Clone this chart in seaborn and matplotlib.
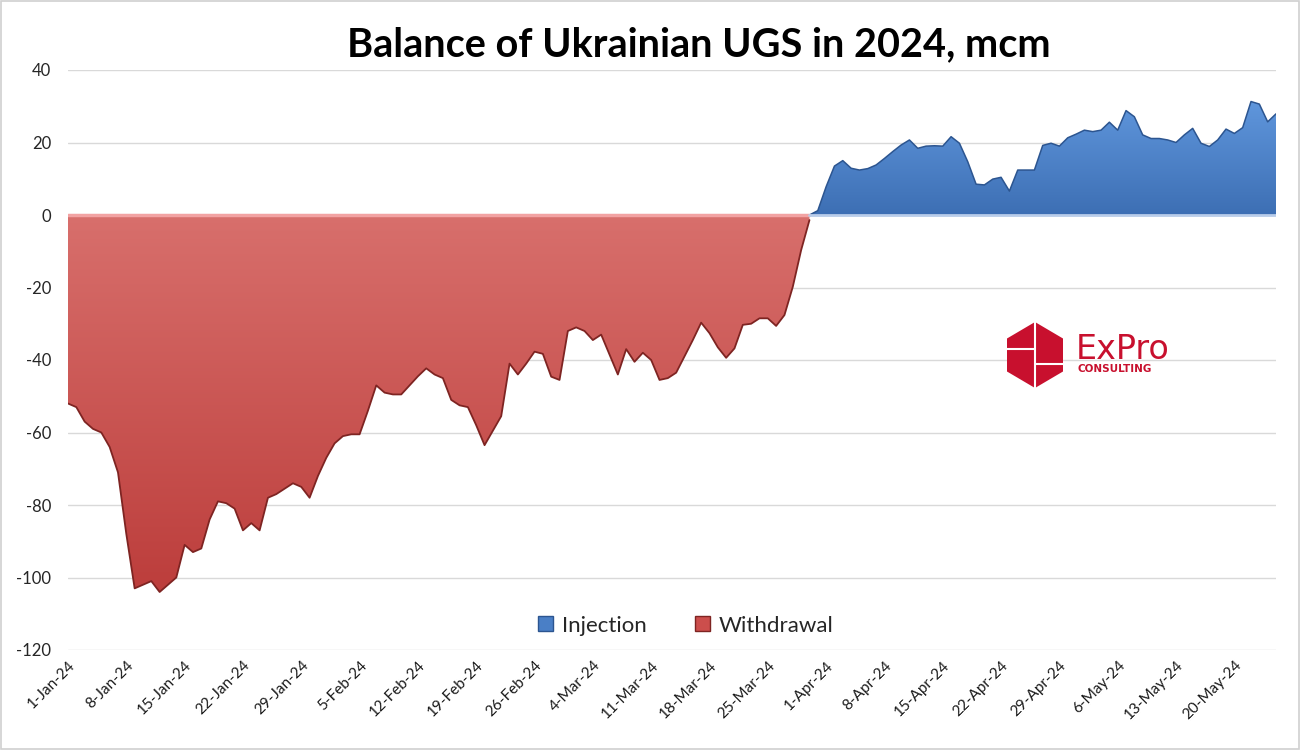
import numpy as np
import pandas as pd
import matplotlib
matplotlib.use('Agg')
import matplotlib.pyplot as plt
from matplotlib.patches import Patch, Polygon, Rectangle
import seaborn as sns

# --- Datos (mcm/día) ---
START = '2024-01-01'
N_DAYS = 146  # 1-Jan-24 .. 25-May-24

# Withdrawal: días 0..89
withdrawal = [
    -52, -53, -57, -59, -60, -64, -71, -88, -103, -102,
    -101, -104, -102, -100, -91, -93, -92, -84, -79, -79.5,
    -81, -87, -85, -87, -78, -77, -75.5, -74, -75, -78,
    -72, -67, -63, -61, -60.5, -60.5, -54, -47, -49, -49.5,
    -49.5, -47, -44.5, -42.3, -44, -45, -51, -52.5, -53, -58,
    -63.5, -59.5, -55.5, -41, -44, -41, -37.7, -38.3, -44.6, -45.5,
    -32, -31, -32, -34.5, -33, -38.5, -44, -37, -40.5, -38,
    -40, -45.5, -45, -43.5, -39, -34.5, -29.7, -32.6, -36.5, -39.4,
    -36.8, -30.3, -30, -28.5, -28.5, -30.6, -27.6, -19.8, -9.7, -1.4,
]
# Injection: días 89..145
injection = [
    0, 1.2, 7.8, 13.5, 15, 12.9, 12.4, 12.8, 13.8, 15.6,
    17.5, 19.3, 20.7, 18.4, 19, 19.1, 19, 21.6, 19.8, 14.7,
    8.5, 8.3, 9.9, 10.4, 6.6, 12.4, 12.4, 12.4, 19.2, 19.8,
    19, 21.3, 22.3, 23.4, 23, 23.4, 25.6, 23.4, 28.8, 27.1,
    22.1, 21.1, 21.1, 20.7, 20, 22.1, 23.9, 19.8, 18.9, 20.7,
    23.7, 22.5, 24.1, 31.3, 30.6, 25.7, 27.9,
]
INJ_START = 89

TITLE = 'Balance of Ukrainian UGS in 2024, mcm'
Y_TICKS = [40, 20, 0, -20, -40, -60, -80, -100, -120]

RED_TOP, RED_BOT, RED_EDGE = '#D86F6C', '#BC3D3B', '#7E2422'
BLUE_TOP, BLUE_BOT, BLUE_EDGE = '#6097DD', '#3D6FB4', '#2C5590'


def gradient_fill(ax, x, y, top, bottom, y_hi, y_lo, zorder=2):
    """fill_between con degradado vertical (estilo Excel)"""
    poly = ax.fill_between(x, y, 0, facecolor='none', edgecolor='none', zorder=zorder)
    c1 = np.array(matplotlib.colors.to_rgb(top))
    c2 = np.array(matplotlib.colors.to_rgb(bottom))
    t = np.linspace(0, 1, 256)[:, None]
    img = (c1 * (1 - t) + c2 * t)[:, None, :]
    x0 = matplotlib.dates.date2num(x[0])
    x1 = matplotlib.dates.date2num(x[-1])
    im = ax.imshow(img, extent=[x0, x1, y_lo, y_hi], aspect='auto',
                   origin='upper', zorder=zorder, interpolation='bilinear')
    im.set_clip_path(poly.get_paths()[0], transform=ax.transData)
    return poly


def main():
    sns.set_theme(style='white')
    plt.rcParams['font.family'] = ['Lato', 'DejaVu Sans']

    dates = pd.date_range(START, periods=N_DAYS, freq='D')
    df_w = pd.DataFrame({'date': dates[:len(withdrawal)], 'value': withdrawal})
    df_i = pd.DataFrame({'date': dates[INJ_START:INJ_START + len(injection)], 'value': injection})

    fig = plt.figure(figsize=(13, 7.5), dpi=100)
    ax = fig.add_axes([68 / 1300, 1 - 650 / 750, (1276 - 68) / 1300, 580 / 750])

    # rejilla
    for yv in Y_TICKS:
        ax.axhline(yv, color='#D9D9D9', lw=1, zorder=0)

    gradient_fill(ax, df_w['date'].values, df_w['value'].values, RED_TOP, RED_BOT, 0, -105)
    gradient_fill(ax, df_i['date'].values, df_i['value'].values, BLUE_TOP, BLUE_BOT, 32, 0)

    sns.lineplot(data=df_w, x='date', y='value', ax=ax, color=RED_EDGE, lw=1.3, zorder=3)
    sns.lineplot(data=df_i, x='date', y='value', ax=ax, color=BLUE_EDGE, lw=1.1, zorder=3)
    ax.plot(df_w['date'], [0] * len(df_w), color='#F2A3A3', lw=2.5, zorder=3)
    ax.plot(df_i['date'], [0] * len(df_i), color='#B9CDEA', lw=2.0, zorder=3)

    ax.set_xlim(dates[0], dates[-1])
    ax.set_ylim(-120, 40)
    ax.set_yticks(Y_TICKS)
    ax.set_yticklabels([str(v) for v in Y_TICKS], fontsize=12, color='#262626')
    ticks = dates[::7]
    ax.set_xticks(ticks)
    ax.set_xticklabels([f"{d.day}-{d.strftime('%b-%y')}" for d in ticks],
                       rotation=45, ha='right', rotation_mode='anchor',
                       fontsize=11, color='#1A1A1A')
    ax.tick_params(axis='both', length=0, pad=12)
    ax.tick_params(axis='x', pad=6)
    ax.set_xlabel('')
    ax.set_ylabel('')
    for s in ax.spines.values():
        s.set_visible(False)

    fig.text(699 / 1300, 1 - 45 / 750, TITLE, ha='center', va='center', fontsize=28.5,
             fontweight='bold', color='black')

    handles = [Patch(facecolor='#4A7FC6', edgecolor='#2C5590', label='Injection'),
               Patch(facecolor='#CC4E4C', edgecolor='#7E2422', label='Withdrawal')]
    ax.legend(handles=handles, loc='center', bbox_to_anchor=((686 - 68) / 1208, 0.042), ncol=2,
              frameon=False, fontsize=16, handlelength=0.65, handleheight=0.65,
              handletextpad=0.4, columnspacing=2.2)

    # logo ExPro
    cx, cy, w, h = 1035 / 1300, 1 - 355 / 750, 28 / 1300, 33 / 750
    hexa = [(cx, cy + h), (cx + w, cy + h / 2), (cx + w, cy - h / 2),
            (cx, cy - h), (cx - w, cy - h / 2), (cx - w, cy + h / 2)]
    fig.patches.append(Polygon(hexa, closed=True, transform=fig.transFigure,
                               facecolor='#C8102E', edgecolor='none', zorder=5))
    fig.lines.append(plt.Line2D([cx, cx], [cy - h, cy + h], transform=fig.transFigure,
                                color='white', lw=1.5, zorder=6))
    fig.lines.append(plt.Line2D([cx - w, cx], [1 - 349 / 750] * 2, transform=fig.transFigure,
                                color='white', lw=1.5, zorder=6))
    fig.lines.append(plt.Line2D([cx, cx + w], [1 - 364 / 750] * 2, transform=fig.transFigure,
                                color='white', lw=1.5, zorder=6))
    fig.text(1076 / 1300, 1 - 349 / 750, 'ExPro', ha='left', va='center', fontsize=24,
             color='#C8102E', family=['DejaVu Sans'])
    fig.text(1078 / 1300, 1 - 369 / 750, 'CONSULTING', ha='left', va='center', fontsize=7.5,
             color='#C8102E', fontweight='bold', family=['DejaVu Sans'])

    # borde del gráfico
    fig.patches.append(Rectangle((0.001, 0.001), 0.998, 0.998, transform=fig.transFigure,
                                 fill=False, edgecolor='#D0D0D0', lw=1.2))

    fig.savefig('out.png', dpi=100)


if __name__ == '__main__':
    main()
